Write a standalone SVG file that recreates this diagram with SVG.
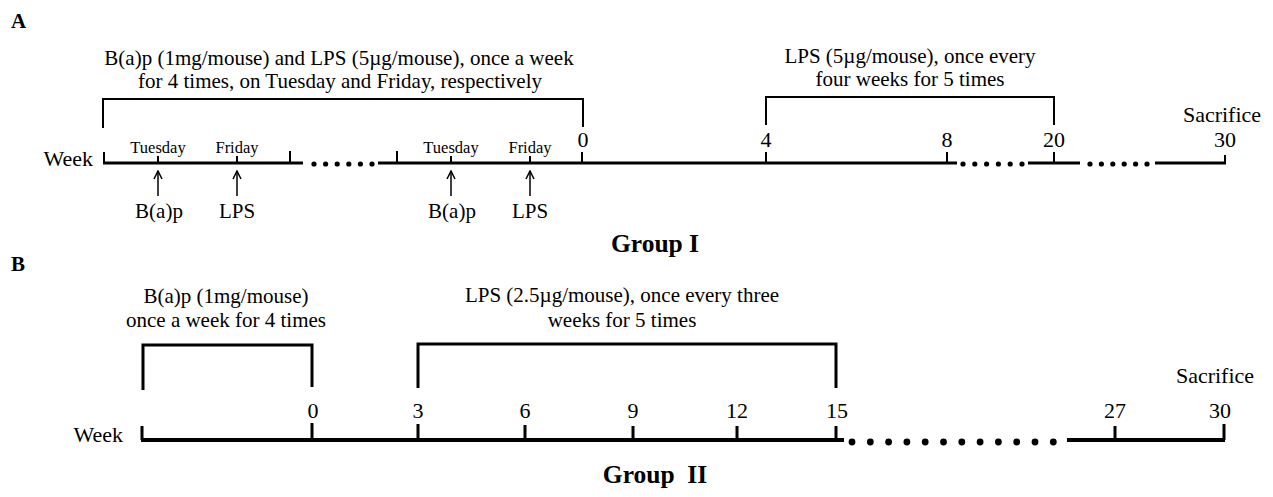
<svg xmlns="http://www.w3.org/2000/svg" width="1273" height="497" viewBox="0 0 1273 497">
<defs>
<style>
text{font-family:"Liberation Serif","Times New Roman",serif;fill:#000}
.hd{font-size:21px;text-anchor:middle}
.lb{font-size:22px;text-anchor:middle}
.sm{font-size:16.5px;text-anchor:middle}
.pl{font-size:21px;font-weight:bold}
.gp{font-size:25.5px;font-weight:bold;text-anchor:middle}
.wk{font-size:22px;text-anchor:end}
.ax{stroke:#000;fill:none;stroke-linecap:butt}
.ta{stroke-width:3.2}
.tb{stroke-width:4}
.br{stroke:#000;fill:none;stroke-width:2}
.brb{stroke:#000;fill:none;stroke-width:3}
.tk{stroke:#000;stroke-width:2}
.tkb{stroke:#000;stroke-width:3}
.ar{stroke:#000;stroke-width:1.5;fill:none}
</style>
<marker id="ah" viewBox="0 0 10 10" refX="9" refY="5" markerWidth="10" markerHeight="10" markerUnits="userSpaceOnUse" orient="auto">
<polyline points="1,1 9,5 1,9" fill="none" stroke="#000" stroke-width="1.5"/>
</marker>
</defs>
<rect width="1273" height="497" fill="#fff"/>

<g id="panelA">
<text class="pl" x="11" y="28">A</text>
<g id="A-header1">
<text class="hd" x="339" y="65">B(a)p (1mg/mouse) and LPS (5µg/mouse), once a week</text>
<text class="hd" x="340" y="88">for 4 times, on Tuesday and Friday, respectively</text>
<path class="br" d="M103,128 V99 H583 V127"/>
</g>
<g id="A-header2">
<text class="hd" x="910" y="63">LPS (5µg/mouse), once every</text>
<text class="hd" x="910" y="86">four weeks for 5 times</text>
<path class="br" d="M766,125 V97 H1054 V125"/>
</g>
<g id="A-axis">
<text class="wk" x="93" y="166">Week</text>
<path class="ax ta" d="M103,163 H303 M378,163 H957 M1028,163 H1080 M1155,163 H1226"/>
<path class="tk" d="M104,152 V163 M158,156 V163 M237,156 V163 M290,151 V163 M397,151 V163 M451,156 V163 M530,156 V163 M582,152 V163 M766,152 V163 M947,152 V163 M1054,152 V163 M1225,155 V163"/>
<g fill="#000">
<circle cx="314" cy="164" r="2.6"/><circle cx="325.6" cy="164" r="2.6"/><circle cx="337.2" cy="164" r="2.6"/><circle cx="348.8" cy="164" r="2.6"/><circle cx="360.4" cy="164" r="2.6"/><circle cx="372" cy="164" r="2.6"/>
<circle cx="963" cy="164" r="2.6"/><circle cx="974.8" cy="164" r="2.6"/><circle cx="986.6" cy="164" r="2.6"/><circle cx="998.4" cy="164" r="2.6"/><circle cx="1010.2" cy="164" r="2.6"/><circle cx="1022" cy="164" r="2.6"/>
<circle cx="1090" cy="164" r="2.6"/><circle cx="1101.4" cy="164" r="2.6"/><circle cx="1112.8" cy="164" r="2.6"/><circle cx="1124.2" cy="164" r="2.6"/><circle cx="1135.6" cy="164" r="2.6"/><circle cx="1147" cy="164" r="2.6"/>
</g>
<text class="sm" x="158" y="153">Tuesday</text>
<text class="sm" x="237" y="153">Friday</text>
<text class="sm" x="451" y="153">Tuesday</text>
<text class="sm" x="530" y="153">Friday</text>
<text class="lb" x="583" y="147">0</text>
<text class="lb" x="766" y="147">4</text>
<text class="lb" x="947" y="147">8</text>
<text class="lb" x="1054" y="147">20</text>
<text class="lb" x="1225" y="147">30</text>
<text class="lb" x="1222" y="122">Sacrifice</text>
</g>
<g id="A-arrows">
<line class="ar" x1="158" y1="196" x2="158" y2="171" marker-end="url(#ah)"/>
<line class="ar" x1="237" y1="196" x2="237" y2="171" marker-end="url(#ah)"/>
<line class="ar" x1="451" y1="196" x2="451" y2="171" marker-end="url(#ah)"/>
<line class="ar" x1="530" y1="196" x2="530" y2="171" marker-end="url(#ah)"/>
<text class="lb" x="159" y="218" style="font-size:21px">B(a)p</text>
<text class="lb" x="237" y="218" style="font-size:21px">LPS</text>
<text class="lb" x="452" y="218" style="font-size:21px">B(a)p</text>
<text class="lb" x="530" y="218" style="font-size:21px">LPS</text>
</g>
<text class="gp" x="655" y="252">Group I</text>
</g>

<g id="panelB">
<text class="pl" x="11" y="271">B</text>
<g id="B-header1">
<text class="hd" x="226" y="303">B(a)p (1mg/mouse)</text>
<text class="hd" x="226" y="327">once a week for 4 times</text>
<path class="brb" d="M143,390 V345 H312 V387"/>
</g>
<g id="B-header2">
<text class="hd" x="622" y="302">LPS (2.5µg/mouse), once every three</text>
<text class="hd" x="622" y="327">weeks for 5 times</text>
<path class="brb" d="M418,388 V344 H836 V388"/>
</g>
<g id="B-axis">
<text class="wk" x="123" y="442">Week</text>
<path class="ax tb" d="M141,440 H844 M1067,440 H1225"/>
<path class="tkb" d="M142,426 V440 M312,423 V440 M418,424 V440 M525,425 V440 M633,426 V440 M737,426 V440 M836,426 V440 M1115,426 V440 M1224,424 V440"/>
<g fill="#000">
<circle cx="852" cy="442" r="3.4"/><circle cx="870.3" cy="442" r="3.4"/><circle cx="888.6" cy="442" r="3.4"/><circle cx="906.9" cy="442" r="3.4"/><circle cx="925.2" cy="442" r="3.4"/><circle cx="943.5" cy="442" r="3.4"/><circle cx="961.8" cy="442" r="3.4"/><circle cx="980.1" cy="442" r="3.4"/><circle cx="998.4" cy="442" r="3.4"/><circle cx="1016.7" cy="442" r="3.4"/><circle cx="1035" cy="442" r="3.4"/><circle cx="1053.3" cy="442" r="3.4"/>
</g>
<text class="lb" x="313" y="418">0</text>
<text class="lb" x="418" y="418">3</text>
<text class="lb" x="525" y="418">6</text>
<text class="lb" x="633" y="418">9</text>
<text class="lb" x="737" y="418">12</text>
<text class="lb" x="837" y="418">15</text>
<text class="lb" x="1115" y="418">27</text>
<text class="lb" x="1220" y="418">30</text>
<text class="lb" x="1215" y="383">Sacrifice</text>
</g>
<text class="gp" x="655" y="483" xml:space="preserve">Group  II</text>
</g>
</svg>
